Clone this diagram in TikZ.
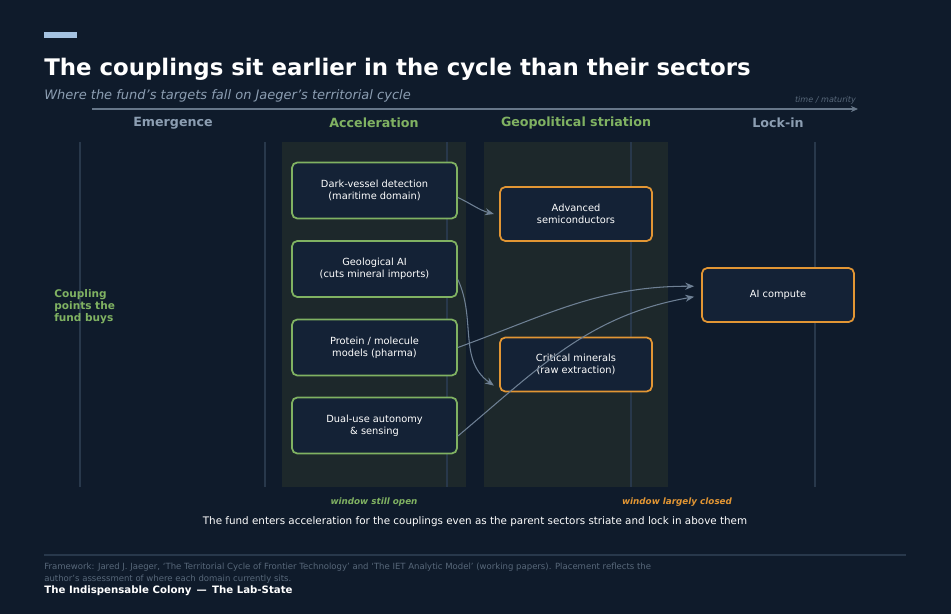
\documentclass[tikz,border=0pt]{standalone}
\usepackage{fontspec}
\setmainfont{DejaVu Sans}
\usetikzlibrary{arrows.meta, positioning}
\definecolor{bgnavy}{RGB}{15,27,43}
\definecolor{bandgreen}{RGB}{29,40,43}
\definecolor{gridline}{RGB}{40,56,75}
\definecolor{greenedge}{RGB}{128,178,98}
\definecolor{orangeedge}{RGB}{226,150,52}
\definecolor{boxfill}{RGB}{20,34,54}
\definecolor{headgray}{RGB}{140,158,178}
\definecolor{badgeblue}{RGB}{165,195,225}
\definecolor{arrowgray}{RGB}{110,128,148}
\definecolor{notegray}{RGB}{88,104,122}
\tikzset{
  coupling/.style={draw=greenedge, line width=1pt, rounded corners=3pt, fill=boxfill,
    minimum width=3.3cm, minimum height=1.12cm, align=center, text=white, font=\fontsize{5.6}{6.6}\selectfont},
  sector/.style={coupling, draw=orangeedge, minimum width=3.04cm, minimum height=1.08cm},
  phase/.style={font=\bfseries\fontsize{7.2}{8}\selectfont},
  link/.style={arrowgray, line width=0.6pt, -{Stealth[length=5pt,width=4pt]}}
}
\begin{document}
\begin{tikzpicture}[x=0.02cm, y=-0.02cm]
%background
\fill[bgnavy] (0,0) rectangle (951,614);
\useasboundingbox (0,0) rectangle (951,614);

%bands and grid
\fill[bandgreen] (282,142) rectangle (466,487);
\fill[bandgreen] (484,142) rectangle (668,487);
\foreach \gx in {80,265,447,631,815}
  \draw[gridline, line width=0.6pt] (\gx,142) -- (\gx,487);

%header
\fill[badgeblue] (44,32) rectangle (77,38);
\node[anchor=west, inner sep=0pt, text=white, font=\bfseries\fontsize{13}{15}\selectfont] (title) at (44,69) {The couplings sit earlier in the cycle than their sectors};
\node[anchor=west, inner sep=0pt, text=headgray, font=\itshape\fontsize{7.4}{9}\selectfont] (subtitle) at (44,96) {Where the fund's targets fall on Jaeger's territorial cycle};
\coordinate (tstart) at (92,109);
\coordinate (tend) at (858,109);
\draw[headgray!70!bgnavy, line width=0.9pt, -{Stealth[length=4pt,width=3.5pt]}] (tstart) -- (tend);
\node[anchor=east, text=notegray, font=\itshape\fontsize{4.6}{5}\selectfont] (maturity) at (862,100) {time / maturity};

%phases
\node[phase, text=headgray] (emergence) at (173,123) {Emergence};
\node[phase, text=greenedge] (accel) at (374,123) {Acceleration};
\node[phase, text=greenedge] (striation) at (576,123) {Geopolitical striation};
\node[phase, text=headgray] (lockin) at (778,123) {Lock-in};

\node[anchor=west, inner sep=0pt, align=left, text=greenedge, font=\bfseries\fontsize{6}{6.8}\selectfont] (buys) at (54,307) {Coupling\\points the\\fund buys};

%couplings
\node[coupling] (dark) at (374.5,190.5) {Dark-vessel detection\\(maritime domain)};
\node[coupling] (geo) at (374.5,269) {Geological AI\\(cuts mineral imports)};
\node[coupling] (protein) at (374.5,347.5) {Protein / molecule\\models (pharma)};
\node[coupling] (dual) at (374.5,425.5) {Dual-use autonomy\\\& sensing};

%sectors
\node[sector] (semi) at (576,214) {Advanced\\semiconductors};
\node[sector] (minerals) at (576,364.5) {Critical minerals\\(raw extraction)};
\node[sector] (compute) at (778,295) {AI compute};

%links
\draw[link] ([yshift=-4]dark.east) to[out=-25, in=165] ([xshift=-3]semi.west);
\draw[link] ([yshift=-6]geo.east) to[out=-65, in=145] ([xshift=-3, yshift=-12]minerals.west);
\draw[link] (protein.east) to[out=20, in=180] ([xshift=-4, yshift=5]compute.west);
\draw[link] ([yshift=-6]dual.east) to[out=40, in=190] ([xshift=-4, yshift=-1]compute.west);

%notes
\node[text=greenedge, font=\bfseries\itshape\fontsize{5}{6}\selectfont] (open) at (374,502) {window still open};
\node[text=orangeedge, font=\bfseries\itshape\fontsize{5}{6}\selectfont] (closed) at (677,502) {window largely closed};
\node[text=white, font=\fontsize{5.9}{7}\selectfont] (caption) at (475,522) {The fund enters acceleration for the couplings even as the parent sectors striate and lock in above them};

%footer
\draw[gridline, line width=0.8pt] (44,555) -- (906,555);
\node[anchor=north west, align=left, text=notegray, inner sep=0pt, font=\fontsize{4.85}{6.8}\selectfont] (framework) at (44,563) {Framework: Jared J. Jaeger, `The Territorial Cycle of Frontier Technology' and `The IET Analytic Model' (working papers). Placement reflects the\\author's assessment of where each domain currently sits.};
\node[anchor=west, text=white, inner sep=0pt, font=\bfseries\fontsize{5.8}{7}\selectfont] (brand) at (44,591) {The Indispensable Colony \,—\, The Lab-State};
\end{tikzpicture}
\end{document}
